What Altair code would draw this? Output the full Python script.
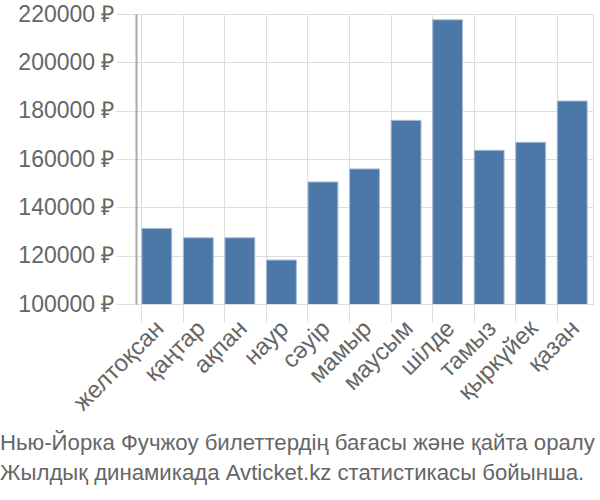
import altair as alt
import pandas as pd

months = ["желтоқсан", "қаңтар", "ақпан", "наур", "сәуір", "мамыр",
          "маусым", "шілде", "тамыз", "қыркүйек", "қазан"]
prices = [131300, 127400, 127400, 118200, 150500, 155900,
          176000, 217600, 163600, 166900, 184000]
y_ticks = [100000, 120000, 140000, 160000, 180000, 200000, 220000]
title_lines = ["Нью-Йорка Фучжоу билеттердің бағасы және қайта оралу",
               "Жылдық динамикада Avticket.kz статистикасы бойынша."]

df = pd.DataFrame({"month": months, "price": prices})

FONT = "Liberation Sans"
GREY = "#666666"
W = 457

chart = alt.Chart(df).mark_bar(
    color="#4c78a8", stroke="#a9bfd8", strokeWidth=1, clip=True
).encode(
    x=alt.X("month:N", sort=months, title=None,
            scale=alt.Scale(paddingInner=0.28, paddingOuter=0.14),
            axis=alt.Axis(labelAngle=-45, labelFontSize=24, labelColor=GREY,
                          labelFont=FONT, bandPosition=0, grid=True,
                          labelOffset=-5,
                          gridColor="#dddddd", tickColor="#dddddd", tickSize=18,
                          domain=False, labelPadding=-6)),
    y=alt.Y("price:Q", title=None,
            scale=alt.Scale(domain=[100000, 220000], nice=False, zero=False),
            axis=alt.Axis(values=y_ticks, labelExpr="datum.value + ' ₽'",
                          labelFontSize=23, labelColor=GREY, labelFont=FONT,
                          gridColor="#dddddd", tickColor="#dddddd", tickSize=20,
                          domainColor="#aaaaaa", domainWidth=2, labelPadding=2)),
).properties(
    width=W, height=290,
    autosize=alt.AutoSizeParams(type="none"),
    padding={"left": 136, "top": 14, "right": 7, "bottom": 196},
    title=alt.TitleParams(text=title_lines, orient="bottom", anchor="start",
                          frame="group", dx=-136, offset=17, font=FONT,
                          fontSize=22.2, fontWeight="normal", color=GREY,
                          lineHeight=30),
).configure_view(stroke="#dddddd")

chart.save("out.html", embed_options={"renderer": "svg", "actions": False})
